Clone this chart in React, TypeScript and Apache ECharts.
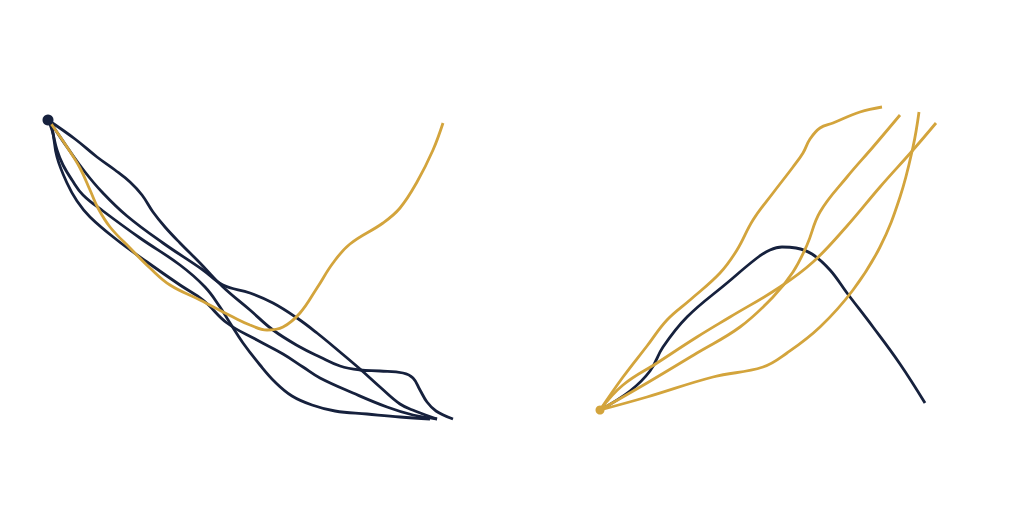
import React, { useEffect, useRef } from "react";
import * as echarts from "echarts";

const NAVY = "#16213d";
const GOLD = "#d3a43c";

// Left group (origin at top-left)
const leftOrigin: number[][] = [[48, 120]];
const leftNavyA: number[][] = [[48,120],[75,139],[97,157],[115,170],[130,182],[142,195],[153,212],[165,227],[180,243],[200,263],[223,287],[250,310],[273,330],[300,347],[320,357],[340,366],[360,370],[380,371],[403,373],[413,378],[420,390],[427,402],[436,411],[453,419]];
const leftNavyB: number[][] = [[48,120],[52,125],[67,147],[85,172],[102,192],[127,216],[163,243],[203,270],[223,285],[250,293],[273,303],[297,318],[317,333],[340,352],[360,369],[380,387],[400,404],[415,411],[437,419]];
const leftNavyC: number[][] = [[48,120],[52,130],[57,150],[63,165],[72,180],[83,195],[103,211],[140,238],[180,265],[205,287],[220,307],[230,323],[243,343],[260,365],[275,382],[292,396],[312,405],[335,411],[367,414],[400,417],[430,419]];
const leftNavyD: number[][] = [[48,120],[52,128],[57,157],[67,183],[77,201],[90,217],[117,240],[147,262],[180,285],[203,300],[227,323],[257,340],[283,354],[303,367],[320,378],[353,393],[387,407],[413,415],[437,419]];
const leftGold: number[][] = [[48,120],[52,125],[67,147],[80,168],[90,190],[98,208],[110,227],[130,248],[150,268],[170,285],[200,300],[233,317],[250,325],[267,330],[283,327],[300,313],[317,288],[333,263],[350,244],[383,223],[400,208],[417,182],[433,150],[443,123]];

// Right group (origin at bottom-left)
const rightOrigin: number[][] = [[600, 410]];
const rightGoldA: number[][] = [[600,410],[623,377],[647,346],[667,320],[690,300],[720,273],[737,250],[753,220],[773,193],[793,167],[803,153],[810,139],[820,128],[833,123],[860,112],[882,107]];
const rightGoldB: number[][] = [[600,410],[647,383],[697,353],[740,327],[773,297],[793,272],[807,245],[820,212],[847,177],[873,147],[900,115]];
const rightGoldC: number[][] = [[600,410],[623,385],[657,363],[697,337],[730,317],[780,287],[813,262],[847,226],[880,187],[913,150],[936,123]];
const rightGoldD: number[][] = [[600,410],[647,397],[713,377],[763,367],[787,353],[820,327],[853,290],[880,247],[900,197],[913,147],[919,112]];
const rightNavy: number[][] = [[600,410],[630,391],[650,371],[663,347],[687,317],[727,283],[757,258],[770,250],[782,247],[796,248],[812,254],[830,270],[847,293],[873,327],[900,364],[925,403]];

const navyLines = [leftNavyA, leftNavyB, leftNavyC, leftNavyD, rightNavy];
const goldLines = [leftGold, rightGoldA, rightGoldB, rightGoldC, rightGoldD];

function lineSeries(data: number[][], color: string) {
  return {
    type: "line",
    data,
    smooth: 0.4,
    showSymbol: false,
    symbol: "none",
    lineStyle: { color, width: 2.8 },
    z: 2,
  };
}

export default function App() {
  const ref = useRef<HTMLDivElement>(null);
  useEffect(() => {
    document.body.style.margin = "0";
    const chart = echarts.init(ref.current!, undefined, { renderer: "svg" });
    chart.setOption({
      animation: false,
      backgroundColor: "#ffffff",
      grid: { left: 0, right: 0, top: 0, bottom: 0 },
      xAxis: { type: "value", min: 0, max: 1012, show: false },
      yAxis: { type: "value", min: 0, max: 506, inverse: true, show: false },
      series: [
        ...navyLines.map((d) => lineSeries(d, NAVY)),
        ...goldLines.map((d) => lineSeries(d, GOLD)),
        { type: "scatter", data: leftOrigin, symbolSize: 11, itemStyle: { color: NAVY, opacity: 1 }, z: 5 },
        { type: "scatter", data: rightOrigin, symbolSize: 9, itemStyle: { color: GOLD, opacity: 1 }, z: 5 },
      ],
    });
    return () => chart.dispose();
  }, []);
  return <div ref={ref} style={{ width: 1012, height: 506 }} />;
}
